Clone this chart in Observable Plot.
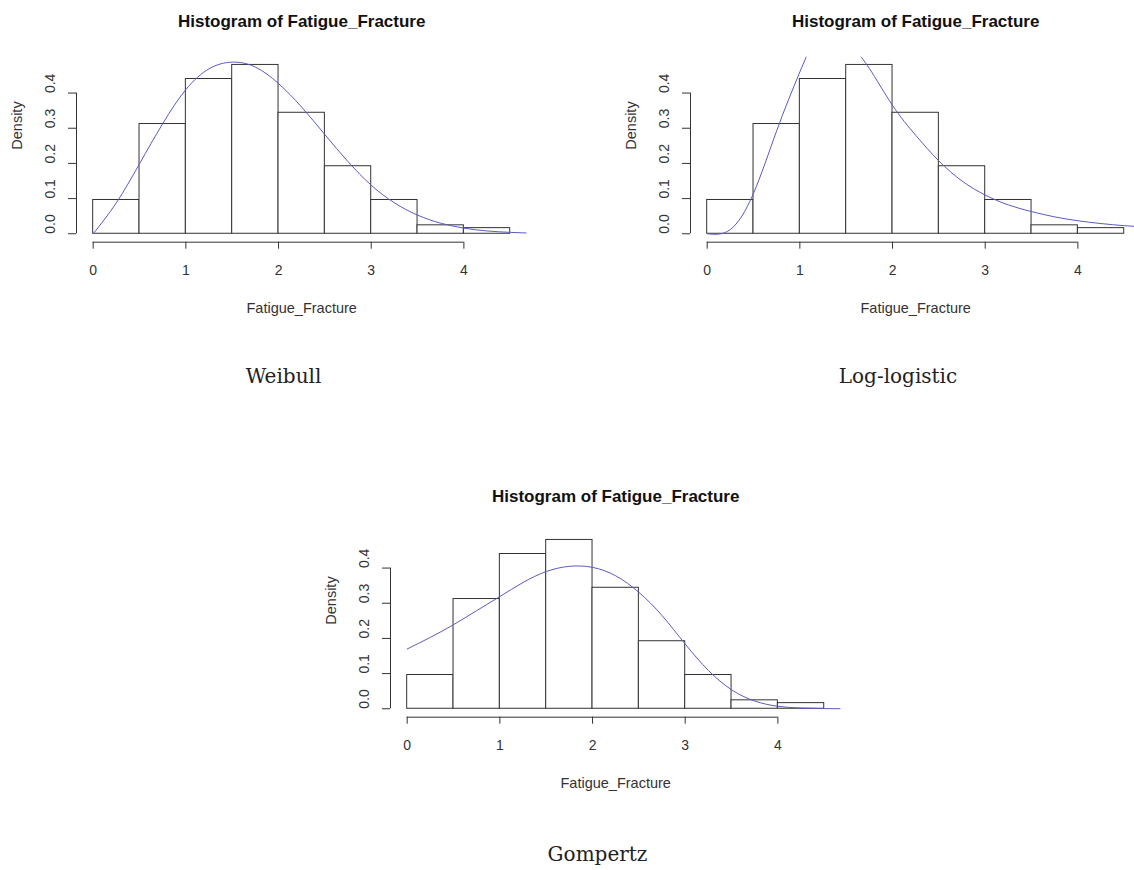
<!DOCTYPE html>
<html>
<head>
<meta charset="utf-8">
<script src="https://cdn.jsdelivr.net/npm/d3@7"></script>
<script src="https://cdn.jsdelivr.net/npm/@observablehq/plot@0.6"></script>
<style>
  html, body { margin: 0; padding: 0; background: #fff; overflow: hidden; }
  #page { position: relative; width: 1134px; height: 870px; overflow: hidden; background: #fff; }
  .panel { position: absolute; width: 560px; height: 330px; }
  .caption { position: absolute; width: 240px; text-align: center; font-family: "DejaVu Serif", "Liberation Serif", serif; font-size: 20px; line-height: 20px; color: #222; }
</style>
</head>
<body>
<div id="page"></div>
<script>
// ---- data ----
const binEdges = [0, 0.5, 1, 1.5, 2, 2.5, 3, 3.5, 4, 4.5];
const densities = [0.096, 0.312, 0.44, 0.48, 0.344, 0.192, 0.096, 0.024, 0.016];
const xTicks = [0, 1, 2, 3, 4];
const yTicks = [0, 0.1, 0.2, 0.3, 0.4];
const plotTitle = "Histogram of Fatigue_Fracture";
const xLabel = "Fatigue_Fracture";
const yLabel = "Density";
const captions = ["Weibull", "Log-logistic", "Gompertz"];

const weibullCurve = [
  [0, 0], [0.25, 0.088], [0.5, 0.199], [0.75, 0.313], [1.0, 0.41], [1.25, 0.469],
  [1.5, 0.488], [1.75, 0.474], [2.0, 0.427], [2.25, 0.36], [2.5, 0.282], [2.75, 0.205],
  [3.0, 0.138], [3.25, 0.088], [3.5, 0.053], [3.75, 0.03], [4.0, 0.016], [4.25, 0.008],
  [4.5, 0.004], [4.75, 0.0015]
];
const loglogisticCurve = [
  [0, 0], [0.25, 0.012], [0.5, 0.115], [0.75, 0.293], [1.0, 0.46], [1.25, 0.6],
  [1.4, 0.62], [1.5, 0.6], [1.6, 0.53], [1.75, 0.47], [2.0, 0.365], [2.25, 0.28],
  [2.5, 0.207], [2.75, 0.15], [3.0, 0.11], [3.25, 0.082], [3.5, 0.063], [3.75, 0.048],
  [4.0, 0.037], [4.25, 0.029], [4.5, 0.023], [4.75, 0.019]
];
const gompertzCurve = [
  [0, 0.17], [0.25, 0.203], [0.5, 0.239], [0.75, 0.279], [1.0, 0.319], [1.25, 0.359],
  [1.5, 0.39], [1.75, 0.405], [2.0, 0.402], [2.25, 0.378], [2.5, 0.331], [2.75, 0.265],
  [3.0, 0.184], [3.25, 0.109], [3.5, 0.054], [3.75, 0.022], [4.0, 0.007], [4.25, 0.002],
  [4.5, 0.0005], [4.75, 0]
];

const bins = densities.map((d, i) => ({x0: binEdges[i], x1: binEdges[i + 1], d}));

// R-style plot region (4% padding)
const xDomain = [-0.18, 4.68];
const yDomain = [-0.024, 0.502];

function panel(curve) {
  return Plot.plot({
    width: 560,
    height: 330,
    marginLeft: 76,
    marginRight: 33.6,
    marginTop: 56.7,
    marginBottom: 88.3,
    style: {
      fontFamily: "'Liberation Sans', Arial, sans-serif",
      fontSize: "14px",
      color: "#333",
      background: "transparent",
      overflow: "visible",
      maxWidth: "none"
    },
    x: {domain: xDomain, ticks: xTicks, tickSize: 7, tickPadding: 16, tickFormat: d3.format("d"), label: null},
    y: {domain: yDomain, ticks: yTicks, tickSize: 8, tickFormat: () => "", label: null},
    marks: [
      Plot.rect(bins, {x1: "x0", x2: "x1", y1: () => 0, y2: "d", fill: "white", stroke: "#333", strokeWidth: 1}),
      Plot.line(curve, {x: d => d[0], y: d => d[1], stroke: "#5a5ac4", strokeWidth: 1, curve: "natural", clip: true}),
      Plot.ruleX([xDomain[0]], {y1: () => yTicks[0], y2: () => yTicks[yTicks.length - 1], stroke: "#333"}),
      Plot.ruleY([yDomain[0]], {x1: () => xTicks[0], x2: () => xTicks[xTicks.length - 1], stroke: "#333"}),
      Plot.text(yTicks, {y: d => d, frameAnchor: "left", dx: -26, rotate: -90, text: d => d.toFixed(1), fill: "#333", fontSize: 14}),
      Plot.text([yLabel], {frameAnchor: "left", dx: -59, rotate: -90, fill: "#333", fontSize: 14.5}),
      Plot.text([xLabel], {frameAnchor: "bottom", dy: 70.3, lineAnchor: "bottom", fill: "#333", fontSize: 14.5}),
      Plot.text([plotTitle], {frameAnchor: "top", dy: -30, lineAnchor: "bottom", fill: "#111", fontSize: 17, fontWeight: "bold"})
    ]
  });
}

const page = document.getElementById("page");
const layout = [
  {curve: weibullCurve, left: 0, top: 0, cap: captions[0], cx: 283.5, base: 383},
  {curve: loglogisticCurve, left: 613.9, top: 0, cap: captions[1], cx: 898, base: 383},
  {curve: gompertzCurve, left: 313.7, top: 474.6, cap: captions[2], cx: 597.5, base: 861}
];
for (const p of layout) {
  const div = document.createElement("div");
  div.className = "panel";
  div.style.left = p.left + "px";
  div.style.top = p.top + "px";
  div.appendChild(panel(p.curve));
  page.appendChild(div);
  const c = document.createElement("div");
  c.className = "caption";
  c.textContent = p.cap;
  c.style.left = (p.cx - 120) + "px";
  c.style.top = (p.base - 17) + "px";
  page.appendChild(c);
}
</script>
</body>
</html>
